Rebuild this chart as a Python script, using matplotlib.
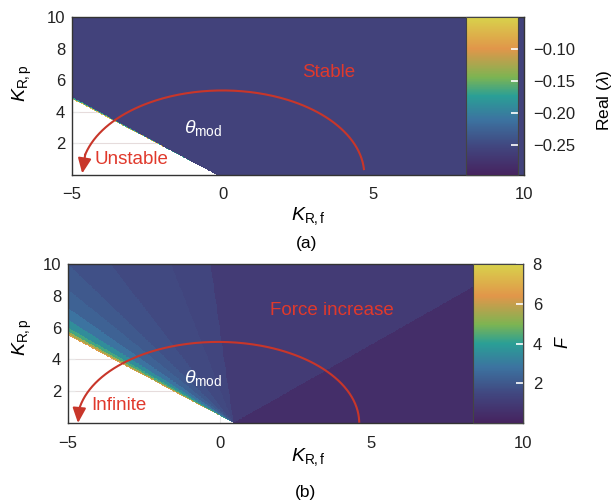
import numpy as np
import matplotlib
matplotlib.use('Agg')
import matplotlib.pyplot as plt
from matplotlib.colors import LinearSegmentedColormap

plt.rcParams['font.family'] = ['Liberation Sans', 'DejaVu Sans']
plt.rcParams['mathtext.fontset'] = 'custom'
plt.rcParams['mathtext.rm'] = 'Liberation Sans'
plt.rcParams['mathtext.it'] = 'Liberation Sans:italic'
plt.rcParams['mathtext.bf'] = 'Liberation Sans:bold'

# colour map
cmap_pos = [0.0, 0.18, 0.35, 0.5, 0.62, 0.8, 1.0]
cmap_cols = ['#46235f', '#41467f', '#3c73a0', '#2a9f96', '#7db452', '#e1964a', '#d8d24b']

# panel (a): sectors around the apex (deg) and Real(lambda) in each sector
apex_a = (-0.2, 0.0)
edges_a = [0, 134.2, 134.6, 134.95]
real_a = [-0.257, -0.17, -0.07]
clim_a = (-0.296, -0.05)
cticks_a = [-0.25, -0.20, -0.15, -0.10]
clabels_a = ['\u22120.25', '\u22120.20', '\u22120.15', '\u22120.10']

# panel (b): sectors around the apex (deg) and F in each sector
apex_b = (0.45, 0.0)
edges_b = [0, 47.3, 94.3, 101.6, 112, 118.6, 123, 127, 130, 132.2, 133.4, 134.2, 134.7]
force_b = [0.45, 1.0, 1.4, 1.55, 1.75, 2.0, 2.3, 2.8, 3.5, 4.3, 5.4, 6.6]
clim_b = (0, 8)
cticks_b = [2, 4, 6, 8]
clabels_b = ['2', '4', '6', '8']

xticks = [-5, 0, 5, 10]
yticks = [2, 4, 6, 8, 10]

red = '#c8362a'
red_txt = '#e0392c'

cm = LinearSegmentedColormap.from_list('fig', list(zip(cmap_pos, cmap_cols)))

xe = np.linspace(-5, 10, 601)
ye = np.linspace(0, 10, 401)
xc = 0.5 * (xe[1:] + xe[:-1])
yc = 0.5 * (ye[1:] + ye[:-1])
X, Y = np.meshgrid(xc, yc)


def sector_field(apex, edges, values):
    ang = np.degrees(np.arctan2(Y - apex[1], X - apex[0]))
    idx = np.digitize(ang, edges) - 1
    vals = np.asarray(values, dtype=float)
    ok = (idx >= 0) & (idx < len(vals))
    Z = np.full(X.shape, np.nan)
    Z[ok] = vals[idx[ok]]
    return Z


def draw_arc(ax, cx, a, b, t0, t1, tip):
    t = np.radians(np.linspace(t0, t1, 200))
    xs = cx + a * np.cos(t)
    ys = b * np.sin(t)
    ax.plot(xs, ys, color=red, lw=1.5, zorder=4)
    ax.annotate('', xy=tip, xytext=(xs[-1], ys[-1]),
                arrowprops=dict(arrowstyle='-|>,head_length=0.9,head_width=0.4',
                                color=red, lw=1.5, shrinkA=0, shrinkB=0),
                zorder=5)


def style_axes(ax):
    ax.set_xlim(-5, 10)
    ax.set_ylim(0, 10)
    ax.set_xticks(xticks)
    ax.set_yticks(yticks)
    ax.tick_params(direction='in', length=5, color='#e8e8e8', labelsize=12,
                   labelcolor='#222222')
    ax.tick_params(axis='x', pad=9)
    ax.tick_params(axis='y', pad=5)
    ax.grid(axis='y', color='#e6dcdc', lw=0.8)
    ax.set_axisbelow(True)
    for s in ax.spines.values():
        s.set_color('#333333')
        s.set_linewidth(1.0)


def colorbar(fig, ax, mesh, pos, ticks, labels, pad):
    cax = ax.inset_axes(pos)
    cb = fig.colorbar(mesh, cax=cax, ticks=ticks)
    cb.set_ticklabels(labels)
    cb.outline.set_edgecolor('#444444')
    cb.outline.set_linewidth(0.8)
    cax.tick_params(direction='in', length=5, width=1.2, color='white',
                    labelsize=12, labelcolor='#222222', pad=pad)
    return cb


fig = plt.figure(figsize=(6.12, 5.04), dpi=100)

# ---------- panel (a)
ax1 = fig.add_axes([0.1176, 0.6528, 0.7386, 0.3135])
Za = sector_field(apex_a, edges_a, real_a)
m1 = ax1.pcolormesh(xe, ye, Za, cmap=cm, vmin=clim_a[0], vmax=clim_a[1], zorder=1)
style_axes(ax1)
colorbar(fig, ax1, m1, [0.872, 0, 0.115, 1], cticks_a, clabels_a, 11)
draw_arc(ax1, 0.0, 4.7, 5.35, 4, 166, (-4.66, 0.1))
ax1.text(3.53, 6.46, 'Stable', color=red_txt, fontsize=13.5, ha='center', va='center')
ax1.text(-4.24, 0.95, 'Unstable', color=red_txt, fontsize=13.5, ha='left', va='center')
ax1.text(-0.65, 2.97, r'$\theta_{\mathrm{mod}}$', color='white', fontsize=14,
         ha='center', va='center')

# ---------- panel (b)
ax2 = fig.add_axes([0.1111, 0.1607, 0.7435, 0.3155])
Zb = sector_field(apex_b, edges_b, force_b)
m2 = ax2.pcolormesh(xe, ye, Zb, cmap=cm, vmin=clim_b[0], vmax=clim_b[1], zorder=1)
style_axes(ax2)
colorbar(fig, ax2, m2, [0.89, 0, 0.11, 1], cticks_b, clabels_b, 7)
draw_arc(ax2, -0.05, 4.65, 5.1, 1, 170, (-4.67, 0.0))
ax2.text(3.69, 7.1, 'Force increase', color=red_txt, fontsize=13.5, ha='center', va='center')
ax2.text(-4.24, 1.13, 'Infinite', color=red_txt, fontsize=13.5, ha='left', va='center')
ax2.text(-0.55, 2.83, r'$\theta_{\mathrm{mod}}$', color='white', fontsize=14,
         ha='center', va='center')

# axis labels and panel tags
fig.text(22 / 612, 1 - 83 / 504, r'$K_{\mathrm{R,p}}$', rotation=90, fontsize=14,
         ha='center', va='center')
fig.text(22 / 612, 1 - 337 / 504, r'$K_{\mathrm{R,p}}$', rotation=90, fontsize=14,
         ha='center', va='center')
fig.text(308 / 612, 1 - 216 / 504, r'$K_{\mathrm{R,f}}$', fontsize=14, ha='center', va='center')
fig.text(308 / 612, 1 - 457 / 504, r'$K_{\mathrm{R,f}}$', fontsize=14, ha='center', va='center')
fig.text(307 / 612, 1 - 243 / 504, '(a)', fontsize=12.5, ha='center', va='center')
fig.text(305 / 612, 1 - 493 / 504, '(b)', fontsize=12.5, ha='center', va='center')
fig.text(604 / 612, 1 - 100 / 504, r'Real $(\lambda)$', rotation=90, fontsize=12.5,
         ha='center', va='center')
fig.text(564 / 612, 1 - 342 / 504, r'$F$', rotation=90, fontsize=13,
         ha='center', va='center')

fig.savefig('out.png', dpi=100)
